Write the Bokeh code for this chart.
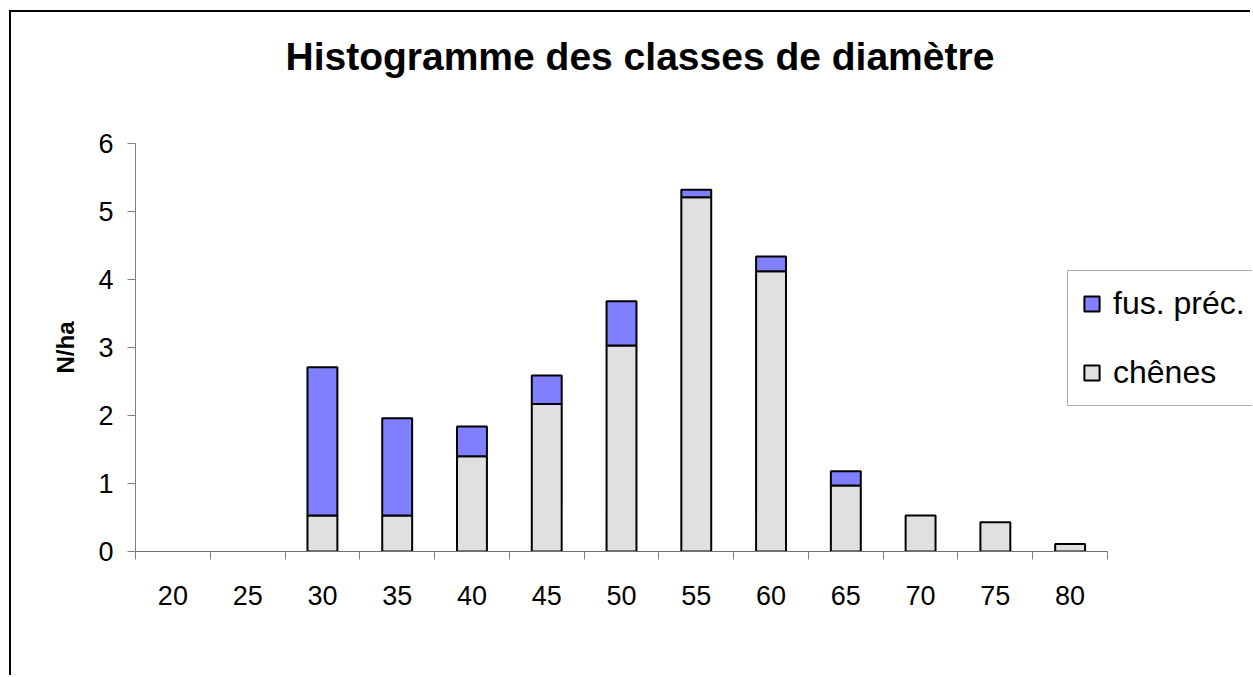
from bokeh.plotting import figure
from bokeh.models import (ColumnDataSource, FixedTicker, Range1d, Legend, LegendItem,
                          CDSView, BooleanFilter, Title)
from bokeh.embed import file_html
from bokeh.resources import INLINE

classes = ["20", "25", "30", "35", "40", "45", "50", "55", "60", "65", "70", "75", "80"]
chenes = [0, 0, 0.53, 0.53, 1.40, 2.17, 3.03, 5.21, 4.12, 0.97, 0.53, 0.43, 0.11]
fus_prec = [0, 0, 2.18, 1.43, 0.44, 0.42, 0.65, 0.11, 0.22, 0.21, 0, 0, 0]
y_ticks = [0, 1, 2, 3, 4, 5, 6]

FONT = "Liberation Sans"
n = len(classes)
centers = [i + 0.5 for i in range(n)]
bounds = list(range(n + 1))
tops = [c + f for c, f in zip(chenes, fus_prec)]

src = ColumnDataSource(dict(x=centers, chenes=chenes, fus=fus_prec, top=tops))

W, H = 1241, 665
ML, MT, MB = 124, 131, 126
px_per_class = 74.77
x_end = (W - ML) / px_per_class

p = figure(width=W, height=H, output_backend="svg", toolbar_location=None,
           x_range=Range1d(0, x_end), y_range=Range1d(0, 6),
           min_border_left=ML, min_border_right=0, min_border_top=MT,
           min_border_bottom=MB)
p.styles = {"border-left": "2px solid black", "border-top": "2px solid black",
            "margin-left": "9px", "margin-top": "10px"}
p.background_fill_color = "white"
p.border_fill_color = "white"
p.outline_line_color = None
p.grid.visible = False

view_ch = CDSView(filter=BooleanFilter([v > 0 for v in chenes]))
view_fu = CDSView(filter=BooleanFilter([v > 0 for v in fus_prec]))

r_ch = p.vbar(x="x", width=0.4, bottom=0, top="chenes", source=src, view=view_ch,
              fill_color="#E0E0E0", line_color="black", line_width=2)
r_fu = p.vbar(x="x", width=0.4, bottom="chenes", top="top", source=src, view=view_fu,
              fill_color="#8080FF", line_color="black", line_width=2)

# x axis: ticks at class boundaries, labels at class centers
xa = p.xaxis[0]
xa.bounds = (0, n)
xa.ticker = FixedTicker(ticks=centers, minor_ticks=bounds)
xa.major_label_overrides = {c: lab for c, lab in zip(centers, classes)}
xa.major_tick_out = 0
xa.major_tick_in = 0
xa.minor_tick_out = 8
xa.minor_tick_in = 0
xa.minor_tick_line_color = "#808080"
xa.axis_line_color = "#707070"
xa.major_label_standoff = 26
xa.major_label_text_font = FONT
xa.major_label_text_font_size = "27px"
xa.major_label_text_color = "black"

ya = p.yaxis[0]
ya.ticker = FixedTicker(ticks=y_ticks)
ya.minor_tick_line_color = None
ya.major_tick_out = 8
ya.major_tick_in = 0
ya.major_tick_line_color = "#808080"
ya.axis_line_color = "#808080"
ya.major_label_standoff = 14
ya.major_label_text_font = FONT
ya.major_label_text_font_size = "27px"
ya.major_label_text_color = "black"
ya.axis_label = "N/ha"
ya.axis_label_text_font = FONT
ya.axis_label_text_font_size = "24px"
ya.axis_label_text_font_style = "bold"
ya.axis_label_text_color = "black"
ya.axis_label_standoff = 16

p.title.text = "Histogramme des classes de diamètre"
p.title.text_font = FONT
p.title.text_font_size = "39px"
p.title.text_font_style = "bold"
p.title.text_color = "black"
p.title.align = "left"
p.title.offset = 150
p.title.standoff = 10

# empty spacer between the title and the plot area
p.add_layout(Title(text=" ", text_font_size="30px", standoff=26), "above")

legend = Legend(items=[LegendItem(label="fus. préc.", renderers=[r_fu]),
                       LegendItem(label="chênes", renderers=[r_ch])],
                location=(932, 145))
legend.label_text_font = FONT
legend.label_text_font_size = "32px"
legend.label_text_color = "black"
legend.label_width = 220
legend.glyph_width = 19
legend.glyph_height = 19
legend.padding = 14
legend.spacing = 32
legend.margin = 0
legend.label_standoff = 12
legend.border_line_color = "#606060"
legend.border_line_width = 1.5
legend.background_fill_color = "white"
legend.background_fill_alpha = 1
p.add_layout(legend, "center")

open("out.html", "w").write(file_html(p, INLINE))
